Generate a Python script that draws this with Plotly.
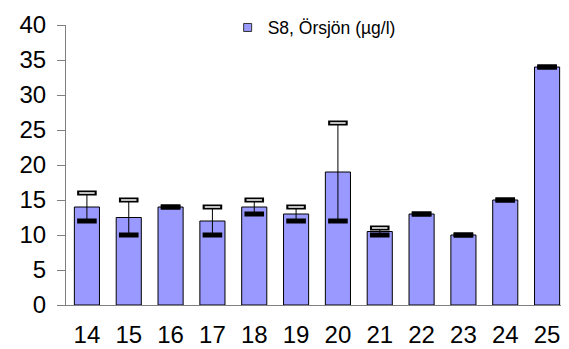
import plotly.graph_objects as go

weeks = ["14", "15", "16", "17", "18", "19", "20", "21", "22", "23", "24", "25"]
values = [14, 12.5, 14, 12, 14, 13, 19, 10.5, 13, 10, 15, 34]
mins = [12, 10, 14, 10, 13, 12, 12, 10, 13, 10, 15, 34]
maxs = [16, 15, 14, 14, 15, 14, 26, 11, 13, 10, 15, 34]
series_name = "S8, Örsjön (µg/l)"

font = "Liberation Sans, Arial, sans-serif"

fig = go.Figure()
fig.add_trace(go.Bar(x=weeks, y=values, name=series_name, showlegend=False,
                     marker=dict(color="#9999FF", line=dict(color="black", width=1)),
                     width=0.6))

# whisker from min to max
fig.add_trace(go.Scatter(x=weeks, y=values, mode="markers", showlegend=False,
                         marker=dict(size=0.1, color="rgba(0,0,0,0)"),
                         error_y=dict(type="data", symmetric=False,
                                      array=[m - v for m, v in zip(maxs, values)],
                                      arrayminus=[v - m for v, m in zip(values, mins)],
                                      width=0, thickness=1, color="black")))
# max caps: hollow dash
fig.add_trace(go.Scatter(x=weeks, y=maxs, mode="markers", showlegend=False,
                         marker=dict(symbol="line-ew", size=14, line=dict(width=5, color="black"))))
fig.add_trace(go.Scatter(x=weeks, y=maxs, mode="markers", showlegend=False,
                         marker=dict(symbol="line-ew", size=11, line=dict(width=1.5, color="white"))))
# min caps: filled dash
fig.add_trace(go.Scatter(x=weeks, y=mins, mode="markers", showlegend=False,
                         marker=dict(symbol="line-ew", size=14, line=dict(width=5, color="black"))))

# legend entry with a small square swatch
fig.add_trace(go.Scatter(x=[None], y=[None], mode="markers", name=series_name,
                         marker=dict(symbol="square", size=8, color="#9999FF",
                                     line=dict(color="#333333", width=1))))

# page body has an 8px margin, so the figure is shrunk by that much
fig.update_layout(
    width=561, height=341,
    margin=dict(l=58, r=1, t=17, b=34),
    paper_bgcolor="white", plot_bgcolor="white",
    font=dict(family=font, color="black"),
    showlegend=True,
    legend=dict(x=0.322, xanchor="left", y=1.055, yanchor="top",
                font=dict(size=17.5), bgcolor="rgba(0,0,0,0)",
                itemwidth=30),
    bargap=0.4,
)
fig.update_xaxes(range=[-0.5, 11.5], showline=True, linecolor="#808080", linewidth=1, ticks="",
                 tickfont=dict(size=24), ticklabelstandoff=8, showgrid=False)
fig.update_yaxes(range=[0, 40], dtick=5, showline=True, linecolor="#808080", linewidth=1,
                 ticks="outside", ticklen=8, tickcolor="#808080",
                 tickfont=dict(size=24), ticklabelstandoff=6, showgrid=False, zeroline=False)

fig.write_html("out.html")
